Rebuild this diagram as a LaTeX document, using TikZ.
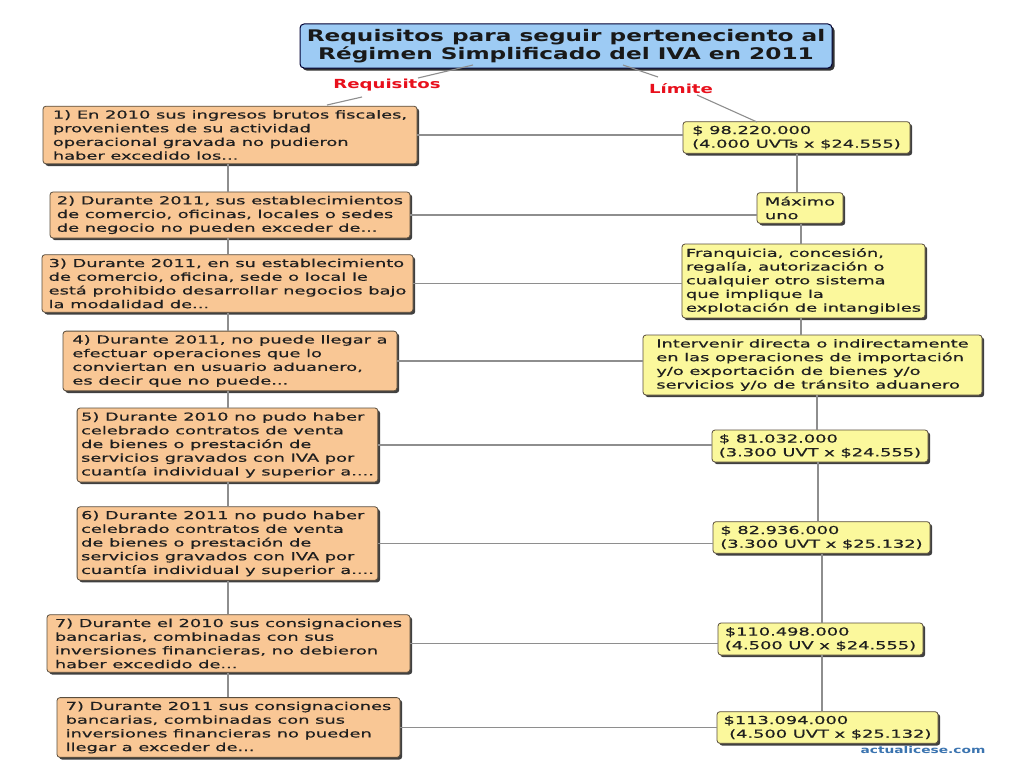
\documentclass[tikz,border=0pt]{standalone}
\usepackage{fontspec}
\newfontfamily\bodyf{DejaVu Sans}[FakeStretch=1.62, FakeBold=0.5]
\newfontfamily\titlef{DejaVu Sans Bold}[FakeStretch=1.45]
\newfontfamily\labf{DejaVu Sans Bold}[FakeStretch=1.45]
\usetikzlibrary{shadows}
\definecolor{orfill}{HTML}{F9C795}
\definecolor{yefill}{HTML}{FBF89C}
\definecolor{blfill}{HTML}{9DCBF4}
\definecolor{bordc}{HTML}{5A4E3E}
\definecolor{linec}{HTML}{8E8E8E}
\definecolor{redl}{HTML}{E8101C}
\definecolor{wmark}{HTML}{3B74B0}
\tikzset{
  basebox/.style={rounded corners=3pt, draw=bordc, line width=0.8pt,
    drop shadow={shadow xshift=2.2pt, shadow yshift=-2.2pt, fill=black!75, opacity=1},
    align=left, inner sep=4pt, text=black!88,
    font=\bodyf\fontsize{11}{13.7}\selectfont},
  lbox/.style={basebox, fill=orfill},
  rbox/.style={basebox, fill=yefill},
  tbox/.style={rounded corners=4pt, draw=black!80!blue, line width=1pt, fill=blfill,
    drop shadow={shadow xshift=2.5pt, shadow yshift=-2.5pt, fill=black!80, opacity=1},
    align=center, inner sep=3pt, text=black!90,
    font=\titlef\fontsize{16}{18.5}\selectfont},
  redlab/.style={text=redl, inner sep=1pt, font=\labf\fontsize{12.5}{14}\selectfont},
  conn/.style={draw=linec, line width=1.1pt}
}
\begin{document}
\begin{tikzpicture}[x=1pt,y=-1pt]
\useasboundingbox[fill=white] (0,0) rectangle (1024,768);

% title
\node[tbox, minimum width=532, minimum height=44] (T) at (566,46)
 {Requisitos para seguir perteneciento al\\ Régimen Simplificado del IVA en 2011};
\node[redlab] (req) at (387,85) {Requisitos};
\node[redlab] (lim) at (681,89) {Límite};

% left boxes
\node[lbox, minimum width=374, minimum height=56] (L1) at (230,135)
 {1) En 2010 sus ingresos brutos fiscales,\\provenientes de su actividad\\operacional gravada no pudieron\\haber excedido los...};
\node[lbox, minimum width=360, minimum height=46] (L2) at (230,215)
 {2) Durante 2011, sus establecimientos\\de comercio, oficinas, locales o sedes\\de negocio no pueden exceder de...};
\node[lbox, minimum width=371, minimum height=57] (L3) at (227.5,283.5)
 {3) Durante 2011, en su establecimiento\\de comercio, oficina, sede o local le\\está prohibido desarrollar negocios bajo\\la modalidad de...};
\node[lbox, minimum width=334, minimum height=58] (L4) at (230,361)
 {4) Durante 2011, no puede llegar a\\efectuar operaciones que lo\\conviertan en usuario aduanero,\\es decir que no puede...};
\node[lbox, minimum width=299, minimum height=74] (L5) at (227.5,445)
 {5) Durante 2010 no pudo haber\\celebrado contratos de venta\\de bienes o prestación de\\servicios gravados con IVA por\\cuantía individual y superior a....};
\node[lbox, minimum width=299, minimum height=73] (L6) at (227.5,543.5)
 {6) Durante 2011 no pudo haber\\celebrado contratos de venta\\de bienes o prestación de\\servicios gravados con IVA por\\cuantía individual y superior a....};
\node[lbox, minimum width=363, minimum height=57] (L7) at (228.5,643.5)
 {7) Durante el 2010 sus consignaciones\\bancarias, combinadas con sus\\inversiones financieras, no debieron\\haber excedido de...};
\node[lbox, minimum width=343, minimum height=59] (L8) at (228.5,727.5)
 {7) Durante 2011 sus consignaciones\\bancarias, combinadas con sus\\inversiones financieras no pueden\\llegar a exceder de...};

% right boxes
\node[rbox, minimum width=227, minimum height=31] (R1) at (796.5,137.5)
 {\$ 98.220.000\\(4.000 UVTs x \$24.555)};
\node[rbox, minimum width=86, minimum height=30] (R2) at (800,208)
 {Máximo\\uno};
\node[rbox, minimum width=243, minimum height=72] (R3) at (803.5,281)
 {Franquicia, concesión,\\regalía, autorización o\\cualquier otro sistema\\que implique la\\explotación de intangibles};
\node[rbox, minimum width=339, minimum height=60] (R4) at (812.5,365)
 {Intervenir directa o indirectamente\\en las operaciones de importación\\y/o exportación de bienes y/o\\servicios y/o de tránsito aduanero};
\node[rbox, minimum width=216, minimum height=32] (R5) at (820,446)
 {\$ 81.032.000\\(3.300 UVT x \$24.555)};
\node[rbox, minimum width=217, minimum height=31] (R6) at (821.5,537.5)
 {\$ 82.936.000\\(3.300 UVT x \$25.132)};
\node[rbox, minimum width=205, minimum height=32] (R7) at (820.5,639)
 {\$110.498.000\\(4.500 UV x \$24.555)};
\node[rbox, minimum width=221, minimum height=31] (R8) at (827.5,727.5)
 {\$113.094.000\\\ (4.500 UVT x \$25.132)};

% watermark
\node[text=wmark, inner sep=0pt, font=\labf\fontsize{9.5}{11}\selectfont] (wm) at (923,750) {actualicese.com};

% coordinates for connectors
\coordinate (tA) at (473,65);
\coordinate (rA) at (418,78);
\coordinate (rB) at (362,97);
\coordinate (lA) at (327,105);
\coordinate (tB) at (623,65);
\coordinate (mA) at (658,77);
\coordinate (mB) at (697,95);
\coordinate (rtop) at (757,122);
\coordinate (xl) at (228,0);
\coordinate (x1) at (797,0);
\coordinate (x2) at (801,0);
\coordinate (x3) at (817,0);
\coordinate (x4) at (818,0);
\coordinate (x5) at (822,0);

% title connectors
\draw[conn] (tA) -- (rA);
\draw[conn] (rB) -- (lA);
\draw[conn] (tB) -- (mA);
\draw[conn] (mB) -- (rtop);

% left trunk
\foreach \a/\b in {L1/L2,L2/L3,L3/L4,L4/L5,L5/L6,L6/L7,L7/L8}
  \draw[conn] (\a.south -| xl) -- (\b.north -| xl);

% right trunk
\draw[conn] (R1.south -| x1) -- (R2.north -| x1);
\draw[conn] (R2.south -| x2) -- (R3.north -| x2);
\draw[conn] (R3.south -| x2) -- (R4.north -| x2);
\draw[conn] (R4.south -| x3) -- (R5.north -| x3);
\draw[conn] (R5.south -| x4) -- (R6.north -| x4);
\draw[conn] (R6.south -| x5) -- (R7.north -| x5);
\draw[conn] (R7.south -| x5) -- (R8.north -| x5);

% horizontal links
\draw[conn] (L1.east) -- (L1.east -| R1.west);
\draw[conn] (L2.east) -- (L2.east -| R2.west);
\draw[conn] (L3.east) -- (L3.east -| R3.west);
\draw[conn] (L4.east) -- (L4.east -| R4.west);
\draw[conn] (L5.east) -- (L5.east -| R5.west);
\draw[conn] (L6.east) -- (L6.east -| R6.west);
\draw[conn] (L7.east) -- (L7.east -| R7.west);
\draw[conn] (L8.east) -- (L8.east -| R8.west);
\end{tikzpicture}
\end{document}
